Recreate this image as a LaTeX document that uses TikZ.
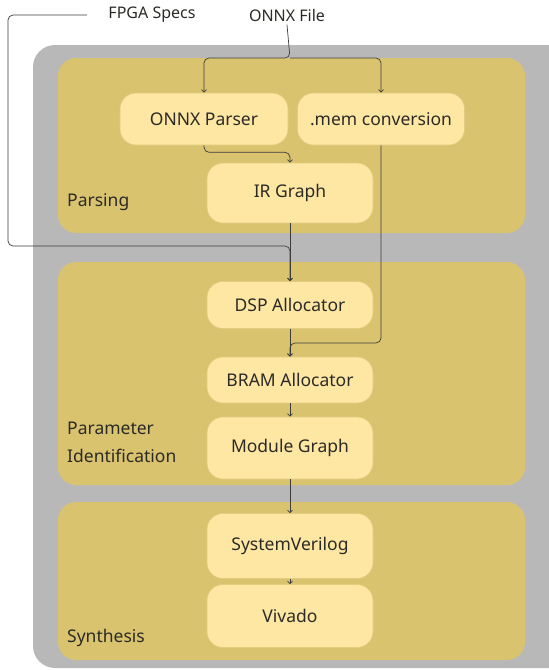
\documentclass[tikz,border=0pt]{standalone}
\usepackage{fontspec}
\setmainfont{Noto Sans}
\usepackage{tikz}
\usetikzlibrary{arrows.meta,positioning,calc}
\definecolor{backgray}{HTML}{B8B8B8}
\definecolor{panelgold}{HTML}{D9C36E}
\definecolor{blockyellow}{HTML}{FDE7A3}
\definecolor{blockedge}{HTML}{E3CC80}
\definecolor{linegray}{HTML}{3C3C3C}
\definecolor{textdark}{HTML}{2B2A26}

\begin{document}
\begin{tikzpicture}[x=1pt,y=-1pt,
    panel/.style={fill=panelgold, rounded corners=18pt},
    block/.style={fill=blockyellow, draw=blockedge, line width=0.6pt, rounded corners=16pt,
        minimum width=166pt, text=textdark, font=\fontsize{17.5}{20}\selectfont},
    tag/.style={text=textdark, font=\fontsize{17.5}{28}\selectfont, anchor=base west,
        align=left, inner sep=0pt},
    inlabel/.style={text=textdark, font=\fontsize{16}{19}\selectfont},
    flow/.style={->, draw=linegray, line width=0.7pt, rounded corners=5pt,
        >={Straight Barb[length=2.5pt,width=5pt]}}]
    \useasboundingbox (0,0) rectangle (549,670);
    % background and stages
    \fill[backgray, rounded corners=22pt] (33,45) rectangle (575,668);
    \fill[panel] (58,58) rectangle (525,233);
    \fill[panel] (58,262) rectangle (525,485);
    \fill[panel] (58,502) rectangle (525,660);
    \node[tag] at (67,206) {Parsing};
    \node[tag] at (67,462) {Parameter\\Identification};
    \node[tag] at (67,642) {Synthesis};

    % inputs
    \node[inlabel] (fpga) at (152,15) {FPGA Specs};
    \node[inlabel] (onnx) at (287,15) {ONNX File};

    % blocks
    \node[block, minimum width=168pt, minimum height=52pt] (parser) at (204,119) {ONNX Parser};
    \node[block, minimum width=167pt, minimum height=52pt] (mem) at (381,119) {.mem conversion};
    \node[block, minimum height=60pt] (ir) at (290,193) {IR Graph};
    \node[block, minimum height=47pt] (dsp) at (290,305) {DSP Allocator};
    \node[block, minimum height=46pt] (bram) at (290,380) {BRAM Allocator};
    \node[block, minimum height=62pt] (modgraph) at (290,448) {Module Graph};
    \node[block, minimum height=65pt] (sysv) at (290,546) {SystemVerilog};
    \node[block, minimum height=63pt] (vivado) at (290,616) {Vivado};

    \coordinate (split) at (290,58);
    \coordinate (fpgaturn) at (8,246);
    \coordinate (memturn) at (381,343);

    % connectors
    \draw[flow] (onnx.south) -- (split) -| (parser.north);
    \draw[flow] (split) -| (mem.north);
    \draw[flow] (parser.south) -- ++(0,7) -| (ir.north);
    \draw[flow, shorten <=18pt] (fpga.west) -| (fpgaturn) -| (dsp.north);
    \draw[flow] (ir.south) -- (dsp.north);
    \draw[flow] (mem.south) -- (memturn) -| (bram.north);
    \draw[flow] (dsp.south) -- (bram.north);
    \draw[flow] (bram.south) -- (modgraph.north);
    \draw[flow] (modgraph.south) -- (sysv.north);
    \draw[flow] (sysv.south) -- (vivado.north);
\end{tikzpicture}
\end{document}
